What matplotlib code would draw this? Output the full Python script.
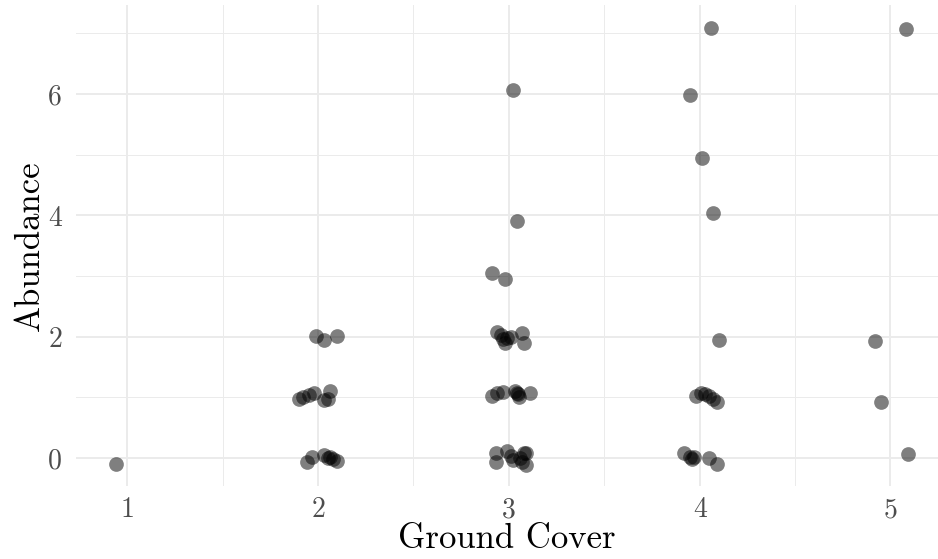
import matplotlib
matplotlib.use("Agg")
import matplotlib.pyplot as plt
from matplotlib.ticker import MultipleLocator

plt.rcParams['font.family'] = 'cmr10'
plt.rcParams['axes.formatter.use_mathtext'] = True

# jittered ground cover class and abundance per observation
cover = [0.94,
         1.99, 2.03, 2.10,
         1.90, 1.92, 1.95, 1.98, 2.06, 2.03, 2.05,
         1.94, 1.97, 2.03, 2.05, 2.06, 2.08, 2.10,
         3.02, 3.04, 2.91, 2.98,
         2.94, 2.96, 2.97, 2.99, 3.01, 2.98, 3.07, 3.08,
         2.91, 2.94, 2.97, 3.03, 3.05, 3.055, 3.11, 3.04,
         2.93, 2.93, 2.99, 3.01, 3.02, 3.08, 3.09, 3.07, 3.09, 3.06,
         4.06, 3.95, 4.01, 4.07, 4.10,
         3.98, 4.005, 4.03, 4.05, 4.07, 4.09,
         3.92, 3.95, 3.96, 3.97, 4.05, 4.09,
         5.08, 4.92, 4.95, 5.09]
abundance = [-0.09,
             2.01, 1.94, 2.01,
             0.98, 1.01, 1.04, 1.08, 1.11, 0.95, 0.97,
             -0.07, 0.02, 0.05, 0.00, 0.02, -0.02, -0.04,
             6.07, 3.91, 3.05, 2.95,
             2.07, 2.03, 1.96, 1.98, 1.99, 1.89, 2.06, 1.90,
             1.03, 1.08, 1.09, 1.10, 1.06, 1.00, 1.07, 1.07,
             0.09, -0.06, 0.11, 0.03, -0.03, 0.08, 0.09, -0.06, -0.11, 0.00,
             7.09, 5.98, 4.94, 4.04, 1.95,
             1.03, 1.08, 1.06, 1.03, 0.97, 0.93,
             0.09, 0.02, -0.02, 0.02, 0.00, -0.09,
             7.07, 1.93, 0.93, 0.07]

x_ticks = [1, 2, 3, 4, 5]
y_ticks = [0, 2, 4, 6]

fig = plt.figure(figsize=(9.38, 5.59), dpi=100)
ax = fig.add_axes([0.081, 0.1306, 0.919, 0.8596])

ax.scatter(cover, abundance, s=112, color='black', alpha=0.5, linewidths=0, zorder=3)

ax.set_xlim(0.731, 5.249)
ax.set_ylim(-0.46, 7.46)
ax.set_xticks(x_ticks)
ax.set_xticklabels([str(t) for t in x_ticks])
ax.set_yticks(y_ticks)
ax.set_yticklabels([str(t) for t in y_ticks])
ax.xaxis.set_minor_locator(MultipleLocator(0.5))
ax.yaxis.set_minor_locator(MultipleLocator(1))

ax.grid(which='major', color='#ebebeb', linewidth=1.4, zorder=0)
ax.grid(which='minor', color='#ebebeb', linewidth=0.7, zorder=0)
ax.set_axisbelow(True)
for s in ax.spines.values():
    s.set_visible(False)
ax.tick_params(which='both', length=0, labelsize=20, labelcolor='#4d4d4d')
ax.tick_params(axis='x', pad=8)
ax.tick_params(axis='y', pad=10)

ax.set_xlabel('Ground Cover', fontsize=25, labelpad=0)
ax.set_ylabel('Abundance', fontsize=25, labelpad=2)

fig.savefig('out.png', dpi=100)
